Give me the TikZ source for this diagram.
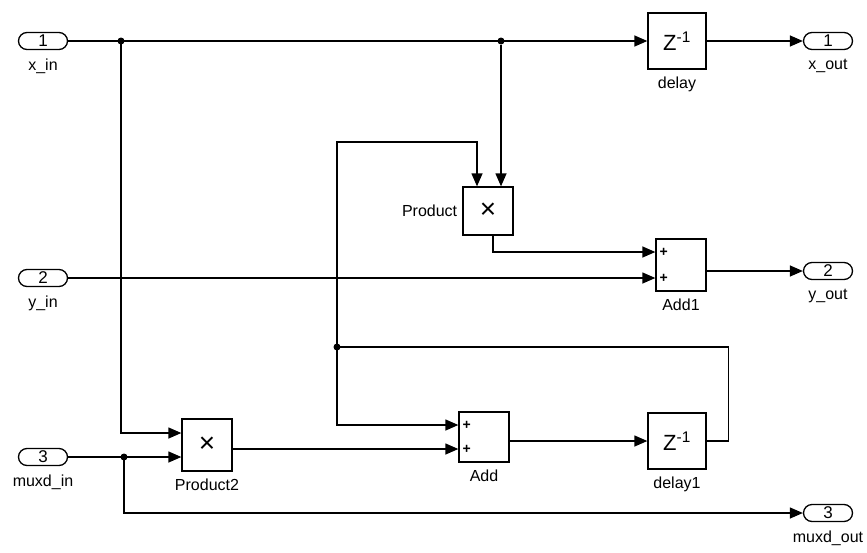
\documentclass[tikz,border=0pt]{standalone}
\usepackage{fontspec}
\setmainfont{Liberation Sans}
\usetikzlibrary{arrows.meta}

\begin{document}
\begin{tikzpicture}[x=1pt,y=-1pt,
font=\fontsize{16}{18}\selectfont,
blk/.style={draw,line width=1.3pt,minimum width=50pt,minimum height=50pt,inner sep=0pt},
port/.style={draw,line width=1.3pt,rounded corners=8.5pt,minimum width=49pt,minimum height=17pt,inner sep=0pt,font=\fontsize{17}{17}\selectfont},
plbl/.style={label distance=9pt,inner sep=0pt},
blbl/.style={label distance=7pt,inner sep=0pt},
sgn/.style={font=\bfseries\fontsize{14}{14}\selectfont,anchor=west,inner sep=0pt,xshift=4pt},
sig/.style={line width=1.3pt,-{Triangle[length=13pt,width=11pt]}},
wire/.style={line width=1.3pt},
dot/.style={circle,fill,inner sep=0pt,minimum size=7pt}]
\useasboundingbox (0,0) rectangle (867,552);
% ports
\node[port,label={[plbl]below:x\_in}] (in1) at (43,41) {1};
\node[port,label={[plbl]below:y\_in}] (in2) at (43,278) {2};
\node[port,label={[plbl]below:muxd\_in}] (in3) at (43,457) {3};
\node[port,label={[plbl]below:x\_out}] (out1) at (828,41) {1};
\node[port,label={[plbl]below:y\_out}] (out2) at (828,271) {2};
\node[port,label={[plbl]below:muxd\_out}] (out3) at (828,513) {3};
% blocks
\node[blk,minimum width=58pt,minimum height=56pt,label={[blbl]below:delay},font=\fontsize{22}{22}\selectfont] (delay) at (677,41) {Z\textsuperscript{-1}};
\node[blk,minimum height=48pt,label={[blbl,label distance=5pt]left:Product},font=\fontsize{28}{28}\selectfont] (prod) at (488,211) {×};
\node[blk,minimum height=52pt,label={[blbl]below:Add1}] (add1) at (681,265) {};
\node[blk,label={[blbl]below:Add}] (add) at (484,437) {};
\node[blk,minimum width=58pt,minimum height=56pt,label={[blbl]below:delay1},font=\fontsize{22}{22}\selectfont] (delay1) at (677,441) {Z\textsuperscript{-1}};
\node[blk,minimum height=52pt,label={[blbl]below:Product2},font=\fontsize{28}{28}\selectfont] (prod2) at (207,445) {×};
% sum signs
\node[sgn] (s1) at ([yshift=13pt]add1.west) {+};
\node[sgn] (s2) at ([yshift=-13pt]add1.west) {+};
\node[sgn] (s3) at ([yshift=12pt]add.west) {+};
\node[sgn] (s4) at ([yshift=-12pt]add.west) {+};
% branch points
\node[dot] (j1) at (121,41) {};
\node[dot] (j2) at (501,41) {};
\node[dot] (j3) at (124,457) {};
\node[dot] (j4) at (337,347) {};
\coordinate (fb) at (337,142);
% signals
\draw[sig] (in1.east) -- (in1.east -| delay.west);
\draw[sig] (delay.east) -- (out1.west);
\draw[sig] (j2) -- (j2 |- prod.north);
\draw[sig] (j1.center) |- ([yshift=12pt]prod2.west);
\draw[sig] (in2.east) -- (in2.east -| add1.west);
\draw[sig] ([xshift=5pt]prod.south) |- ([yshift=13pt]add1.west);
\draw[sig] (add1.east |- out2) -- (out2.west);
\draw[sig] (in3.east) -- ([yshift=-12pt]prod2.west);
\draw[sig] (j3.center) |- (out3.west);
\draw[sig] ([yshift=-4pt]prod2.east) -- ([yshift=-12pt]add.west);
\draw[sig] (add.east |- delay1) -- (delay1.west);
\draw[wire] (delay1.east) -- ++(22,0) |- (j4.center);
\draw[sig] (j4.center) -- (fb) -| ([xshift=-11pt]prod.north);
\draw[sig] (j4.center) |- ([yshift=12pt]add.west);
\end{tikzpicture}
\end{document}
